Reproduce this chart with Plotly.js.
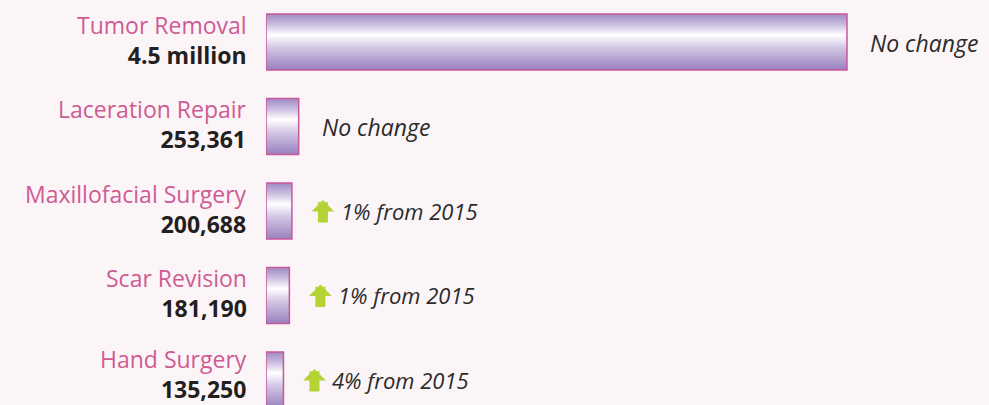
<!DOCTYPE html>
<html>
<head>
<meta charset="utf-8">
<script src="https://cdn.plot.ly/plotly-3.0.1.min.js"></script>
<style>
html,body{margin:0;padding:0;background:#fcf5f8;}
#chart{width:989px;height:405px;}
</style>
</head>
<body>
<div id="chart"></div>
<script>
// Data
var categories = ['Tumor Removal', 'Laceration Repair', 'Maxillofacial Surgery', 'Scar Revision', 'Hand Surgery'];
var values = [4500000, 253361, 200688, 181190, 135250];
var valueLabels = ['4.5 million', '253,361', '200,688', '181,190', '135,250'];
var changeLabels = ['No change', 'No change', '1% from 2015', '1% from 2015', '4% from 2015'];
var changeUp = [false, false, true, true, true];

var half = 0.331;
var traces = [];
var annotations = [];
var pink = '#cf5b93';
var fam = '"Open Sans", Lato, sans-serif';

categories.forEach(function (cat, i) {
  var v = values[i];
  traces.push({
    type: 'scatter',
    mode: 'lines',
    x: [0, v, v, 0, 0],
    y: [i - half, i - half, i + half, i + half, i - half],
    fill: 'toself',
    fillgradient: {
      type: 'vertical',
      start: i - half,
      stop: i + half,
      colorscale: [[0, '#a08ac4'], [0.18, '#c8bbdf'], [0.375, '#ffffff'], [0.6, '#d3c7e5'], [1, '#9880bd']]
    },
    line: {color: '#c9579b', width: 1.5},
    hoverinfo: 'skip',
    showlegend: false
  });
  // Left labels: name and value
  annotations.push({
    x: 0, y: i, xref: 'x', yref: 'y',
    xanchor: 'right', yanchor: 'middle',
    xshift: -17, yshift: (i === categories.length - 1) ? 6 : 2,
    align: 'right',
    showarrow: false,
    text: '<span style="color:' + pink + '">' + cat + '</span><br><b>' + valueLabels[i] + '</b>',
    font: {family: fam, size: 23, color: '#231f20'}
  });
  // Right change labels
  if (changeUp[i]) {
    annotations.push({
      x: v, y: i, xref: 'x', yref: 'y',
      xshift: 31, yshift: 11,
      showarrow: true,
      text: '',
      ax: 0, ay: 24,
      arrowhead: 1,
      arrowsize: 0.38,
      arrowwidth: 10,
      arrowcolor: '#b5d334',
      standoff: 0,
      font: {size: 1}
    });
    annotations.push({
      x: v, y: i, xref: 'x', yref: 'y',
      xanchor: 'left', yanchor: 'middle',
      xshift: 47, yshift: 0,
      showarrow: false,
      text: '<i>' + changeLabels[i] + '</i>',
      font: {family: fam, size: 22, color: '#2b2b2b'}
    });
  } else {
    annotations.push({
      x: v, y: i, xref: 'x', yref: 'y',
      xanchor: 'left', yanchor: 'middle',
      xshift: 21, yshift: -1,
      showarrow: false,
      text: '<i>' + changeLabels[i] + '</i>',
      font: {family: fam, size: 23, color: '#2b2b2b'}
    });
  }
});

var layout = {
  width: 989, height: 405,
  margin: {l: 266, r: 0, t: 0, b: 0},
  paper_bgcolor: '#fcf5f8',
  plot_bgcolor: '#fcf5f8',
  xaxis: {range: [0, 5600000], visible: false, fixedrange: true},
  yaxis: {range: [4.296, -0.497], visible: false, fixedrange: true},
  annotations: annotations,
  showlegend: false
};

Plotly.newPlot('chart', traces, layout, {displayModeBar: false, staticPlot: true});
</script>
</body>
</html>
